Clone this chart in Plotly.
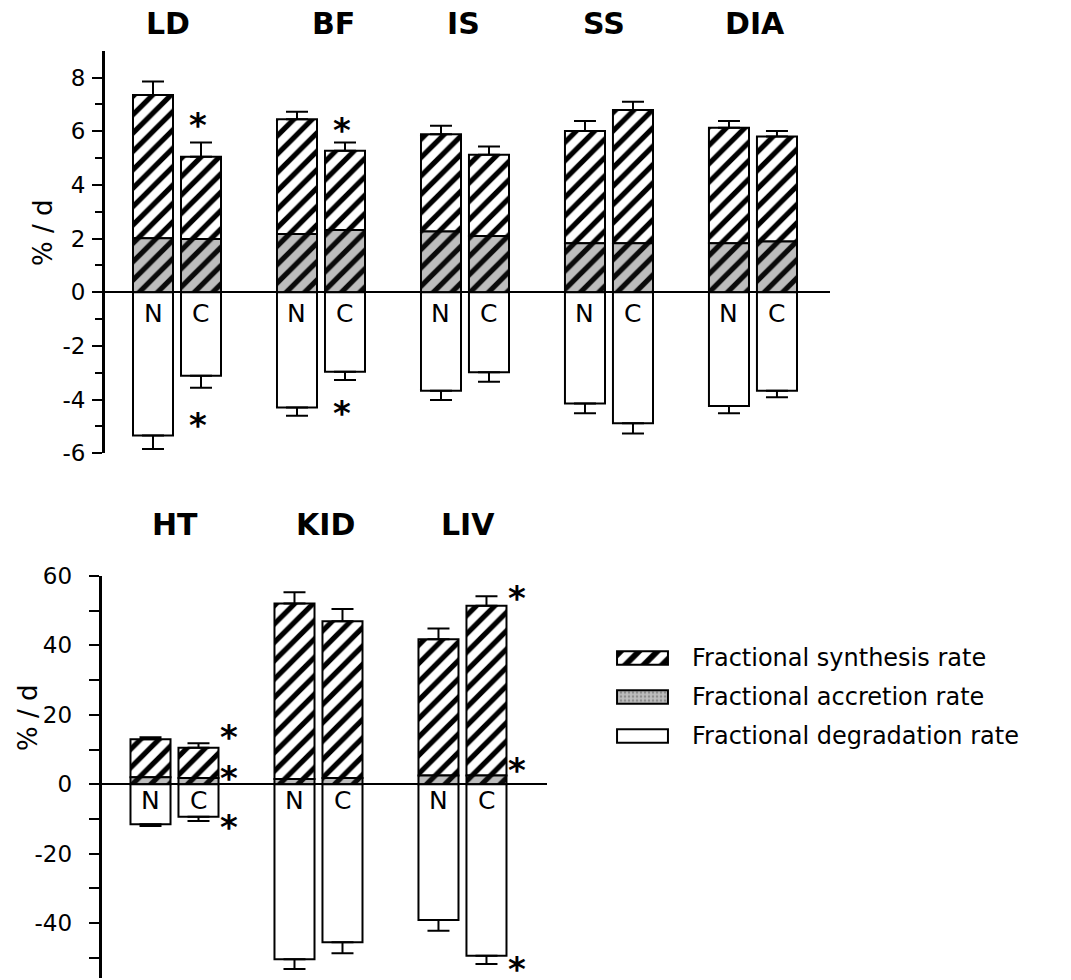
import plotly.graph_objects as go

W, H = 1071, 980

# ---------------- data ----------------
groups_top = ["LD", "BF", "IS", "SS", "DIA"]
groups_bot = ["HT", "KID", "LIV"]
conditions = ["N", "C"]

# values ordered N, C for each group
fsr_top = [7.35, 5.05, 6.45, 5.27, 5.89, 5.12, 6.01, 6.79, 6.13, 5.80]
fsr_top_err = [0.50, 0.53, 0.28, 0.31, 0.31, 0.31, 0.37, 0.31, 0.25, 0.21]
far_top = [2.01, 1.98, 2.17, 2.32, 2.26, 2.10, 1.83, 1.83, 1.83, 1.89]
fdr_top = [5.34, 3.11, 4.29, 2.96, 3.67, 2.98, 4.14, 4.88, 4.24, 3.67]
fdr_top_err = [0.50, 0.45, 0.31, 0.31, 0.34, 0.35, 0.37, 0.38, 0.27, 0.24]

fsr_bot = [12.96, 10.54, 52.1, 47.0, 41.75, 51.4]
fsr_bot_err = [0.6, 1.26, 3.2, 3.5, 3.15, 2.8]
far_bot = [2.0, 1.8, 1.5, 1.8, 2.5, 2.5]
fdr_bot = [11.5, 9.33, 50.4, 45.5, 39.1, 49.4]
fdr_bot_err = [0.5, 1.24, 2.8, 3.2, 3.1, 2.4]

# significance marks: (group, y value) -- all refer to the C bar
sig_top = [("LD", 6.42), ("LD", -4.76), ("BF", 6.23), ("BF", -4.32)]
sig_bot = [("HT", 15.1), ("HT", 3.3), ("HT", -10.8),
           ("LIV", 55.0), ("LIV", 5.6), ("LIV", -51.9)]

tickvals_top = [-6, -4, -2, 0, 2, 4, 6, 8]
ticktext_top = ["-6", "-4", "-2", "0", "2", "4", "6", "8"]
minor_top = [-5, -3, -1, 1, 3, 5, 7]
tickvals_bot = [-40, -20, 0, 20, 40, 60]
ticktext_bot = ["-40", "-20", "0", "20", "40", "60"]
minor_bot = [-50, -30, -10, 10, 30, 50]

legend_labels = ["Fractional synthesis rate", "Fractional accretion rate",
                 "Fractional degradation rate"]
y_title = "% / d"

# ---------------- style ----------------
FONT = "DejaVu Sans"
OFF = 1 / 6          # half distance between N and C bars (group units)
BW = 0.278           # bar width (group units)
GREY = "#bdbdbd"
hatch_white = dict(shape="/", fgcolor="black", bgcolor="white", size=13, solidity=0.4,
                   fgopacity=1, fillmode="replace")
hatch_grey = dict(shape="/", fgcolor="#0a0a0a", bgcolor=GREY, size=13, solidity=0.4,
                  fgopacity=1, fillmode="replace")

fig = go.Figure()


def bar_x(groups):
    xs = []
    for g in range(len(groups)):
        for c in conditions:
            xs.append(g + (-OFF if c == "N" else OFF))
    return xs


def add_panel(xa, ya, groups, fsr, fsr_err, far, fdr, fdr_err):
    xs = bar_x(groups)
    n = len(xs)
    eb = dict(type="data", symmetric=False, color="black", thickness=2, width=11)
    # synthesis (hatched, white background) stacked on top of the accretion part
    fig.add_trace(go.Bar(
        x=xs, y=[s - a for s, a in zip(fsr, far)], base=far, width=BW, xaxis=xa, yaxis=ya,
        marker=dict(color="white", opacity=1, pattern=hatch_white,
                    line=dict(color="black", width=2)),
        error_y=dict(eb, array=fsr_err, arrayminus=[0] * n), showlegend=False))
    # accretion (hatched, grey background)
    fig.add_trace(go.Bar(
        x=xs, y=far, width=BW, xaxis=xa, yaxis=ya,
        marker=dict(color=GREY, opacity=1, pattern=hatch_grey,
                    line=dict(color="black", width=2)),
        showlegend=False))
    # degradation (negative)
    fig.add_trace(go.Bar(
        x=xs, y=[-v for v in fdr], width=BW, xaxis=xa, yaxis=ya,
        marker=dict(color="white", opacity=1, line=dict(color="black", width=2)),
        error_y=dict(eb, array=[0] * n, arrayminus=fdr_err), showlegend=False))
    return xs


xs_top = add_panel("x", "y", groups_top, fsr_top, fsr_top_err, far_top, fdr_top, fdr_top_err)
xs_bot = add_panel("x2", "y2", groups_bot, fsr_bot, fsr_bot_err, far_bot, fdr_bot, fdr_bot_err)

# legend swatches (own small axes), one trace per entry
swatch_markers = [
    dict(color="white", pattern=dict(shape="/", fgcolor="black", bgcolor="white", size=13,
                                     solidity=0.45, fgopacity=1, fillmode="replace")),
    dict(color=GREY, pattern=dict(shape=".", fgcolor="#8c8c8c", bgcolor=GREY, size=4,
                                  solidity=0.3, fgopacity=1, fillmode="replace")),
    dict(color="white"),
]
for i, mk in enumerate(swatch_markers):
    fig.add_trace(go.Bar(
        x=[1], y=[i], orientation="h", width=0.34, xaxis="x3", yaxis="y3",
        marker=dict(mk, opacity=1, line=dict(color="black", width=2)),
        showlegend=False, hoverinfo="skip"))

ann = []
# N / C labels
for xs, xa, ya, shift in ((xs_top, "x", "y", -21), (xs_bot, "x2", "y2", -16)):
    for i, x in enumerate(xs):
        ann.append(dict(x=x, y=0, xref=xa, yref=ya, text=conditions[i % 2],
                        showarrow=False, yshift=shift, yanchor="middle",
                        font=dict(family=FONT, size=25, color="black")))

# asterisks
star_font = dict(family=FONT, size=34, color="black", weight="bold")
for g, v in sig_top:
    ann.append(dict(x=groups_top.index(g) + OFF - 0.02, y=v, xref="x", yref="y", text="*",
                    showarrow=False, yanchor="middle", yshift=-5, font=star_font))
for g, v in sig_bot:
    ann.append(dict(x=groups_bot.index(g) + OFF + 0.21, y=v, xref="x2", yref="y2", text="*",
                    showarrow=False, yanchor="middle", yshift=-5, font=star_font))

# panel titles (pixel positions of the original labels)
title_top_px = [168, 333, 463, 604, 755]
title_bot_px = [175, 325, 468]
title_font = dict(family=FONT, size=30, color="black", weight="bold")
for name, px in zip(groups_top, title_top_px):
    ann.append(dict(x=px / W, y=1 - 24 / H, xref="paper", yref="paper", text=name,
                    showarrow=False, xanchor="center", yanchor="middle", font=title_font))
for name, px in zip(groups_bot, title_bot_px):
    ann.append(dict(x=px / W, y=1 - 524 / H, xref="paper", yref="paper", text=name,
                    showarrow=False, xanchor="center", yanchor="middle", font=title_font))

# y titles
for xp, yp in ((43, 233), (28, 718)):
    ann.append(dict(x=xp / W, y=1 - yp / H, xref="paper", yref="paper", text=y_title,
                    textangle=-90, showarrow=False, xanchor="center", yanchor="middle",
                    font=dict(family=FONT, size=26, color="black")))

# legend labels
for i, lab in enumerate(legend_labels):
    ann.append(dict(x=690 / W, y=i, xref="paper", yref="y3", text=lab, showarrow=False,
                    xanchor="left", yanchor="middle",
                    font=dict(family=FONT, size=24, color="black")))


def yaxis_style(dom, rng, tv, tt, mv, mlen, standoff):
    return dict(domain=dom, range=rng, showline=True, linewidth=3, linecolor="black",
                ticks="outside", ticklen=10, tickwidth=2, tickcolor="black",
                tickmode="array", tickvals=tv, ticktext=tt,
                minor=dict(tickmode="array", tickvals=mv, ticks="outside", ticklen=mlen,
                           tickwidth=2, tickcolor="black", showgrid=False),
                ticklabelstandoff=standoff, automargin=False,
                tickfont=dict(family=FONT, size=23, color="black"),
                showgrid=False, zeroline=True, zerolinecolor="black", zerolinewidth=2,
                fixedrange=True)


hidden_x = dict(visible=False, automargin=False, showgrid=False, zeroline=False,
                fixedrange=True)

fig.update_layout(
    width=W, height=H, autosize=False,
    margin=dict(l=0, r=0, t=0, b=0, pad=0, autoexpand=False),
    paper_bgcolor="white", plot_bgcolor="white",
    barmode="overlay", showlegend=False,
    font=dict(family=FONT, color="black"),
    xaxis=dict(hidden_x, domain=[105 / W, 830 / W], range=[-0.5, 4.535], anchor="y"),
    yaxis=dict(yaxis_style([1 - 453.3 / H, 1 - 50.7 / H], [-6, 9], tickvals_top,
                           ticktext_top, minor_top, 7, 2), anchor="x"),
    xaxis2=dict(hidden_x, domain=[101.7 / W, 547 / W], range=[-0.5056, 2.587], anchor="y2"),
    yaxis2=dict(yaxis_style([1 - 978 / H, 1 - 576 / H], [-55.8, 60], tickvals_bot,
                            ticktext_bot, minor_bot, 10, 12), anchor="x2"),
    xaxis3=dict(hidden_x, domain=[615 / W, 670 / W], range=[-0.04, 1.04], anchor="y3"),
    yaxis3=dict(domain=[1 - 755.5 / H, 1 - 638.5 / H], range=[2.5, -0.5], visible=False,
                automargin=False, fixedrange=True, anchor="x3"),
    annotations=ann,
)

fig.write_html("out.html",
               config={"displayModeBar": False},
               post_script="document.body.style.margin='0px';"
                           "document.body.style.overflow='hidden';")
